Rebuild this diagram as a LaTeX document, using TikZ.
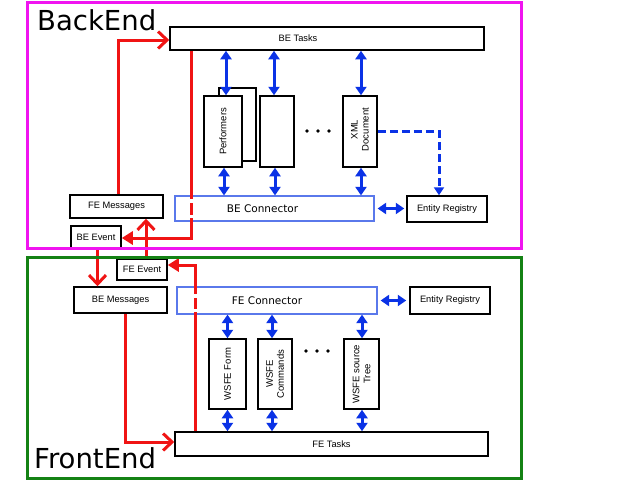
\documentclass[tikz,border=0pt]{standalone}
\usepackage{fontspec}
\setmainfont{Liberation Sans}
\newfontfamily\dejavu{DejaVu Sans}
\usetikzlibrary{arrows.meta}
\definecolor{frameM}{RGB}{240,20,240}
\definecolor{frameG}{RGB}{20,130,20}
\definecolor{redL}{RGB}{240,20,20}
\definecolor{blueA}{RGB}{10,50,230}
\definecolor{blueC}{RGB}{90,120,235}
\tikzset{
  box/.style={draw=black, line width=1.5pt, fill=white, inner sep=0pt,
    font=\fontsize{9.3}{11}\selectfont},
  connbox/.style={draw=blueC, line width=1.2pt, fill=white, inner sep=0pt,
    font=\dejavu\fontsize{10.5}{12}\selectfont},
  rlab/.style={rotate=90, align=center, font=\fontsize{9.5}{11}\selectfont},
  barrow/.style={draw=blueA, line width=3pt,
    {Triangle[length=8.5pt,width=11pt]}-{Triangle[length=8.5pt,width=11pt]}},
  dasharrow/.style={draw=blueA, line width=3pt, dash pattern=on 8pt off 4pt,
    -{Triangle[length=8pt,width=10pt]}},
  rbarb/.style={draw=redL, line width=3pt, -{Straight Barb[length=9pt,width=17pt]}},
  rtri/.style={draw=redL, line width=3pt, -{Triangle[length=11pt,width=13pt]}},
  gapmask/.style={draw=white, line width=4.5pt},
  title/.style={anchor=base west, inner sep=0pt, font=\dejavu\fontsize{27.5}{30}\selectfont},
  frameline/.style={line width=3pt}
}
\begin{document}
\begin{tikzpicture}[x=1pt,y=-1pt]
\useasboundingbox (0,0) rectangle (640,480);
\fill[white] (0,0) rectangle (640,480);

% titles
\node[title] (betitle) at (37,30) {BackEnd};
\node[title] (fetitle) at (34,468) {FrontEnd};

% BackEnd nodes
\node[box, minimum width=314pt, minimum height=23pt,
  label={[xshift=-29pt, font=\fontsize{9.3}{11}\selectfont]center:BE Tasks}] (betasks) at (327,38.5) {};
\node[box, minimum width=37pt, minimum height=73pt] (perfback) at (237.5,124.5) {};
\node[box, minimum width=38pt, minimum height=71pt,
  label={[rlab]center:Performers}] (perf) at (223,131.5) {};
\node[box, minimum width=34pt, minimum height=71pt] (blank) at (277,131.5) {};
\node[box, minimum width=34pt, minimum height=71pt,
  label={[rlab, xshift=2pt]center:{XML\\Document}}] (xml) at (360,131.5) {};
\node[connbox, minimum width=199pt, minimum height=25pt,
  label={[xshift=-12pt, font=\dejavu\fontsize{10.5}{12}\selectfont]center:BE Connector}] (beconn) at (274.5,208.5) {};
\node[box, minimum width=80pt, minimum height=26pt] (beer) at (447,209) {Entity Registry};
\node[box, minimum width=93pt, minimum height=23pt] (femsg) at (116.5,206.5) {FE Messages};
\node[box, minimum width=50pt, minimum height=22pt] (beevt) at (96,237) {BE Event};

% FrontEnd nodes
\node[box, minimum width=50pt, minimum height=21pt] (feevt) at (142,269.5) {FE Event};
\node[box, minimum width=93pt, minimum height=26pt] (bemsg) at (120.5,300) {BE Messages};
\node[connbox, minimum width=200pt, minimum height=27pt,
  label={[xshift=-10pt, font=\dejavu\fontsize{10.5}{12}\selectfont]center:FE Connector}] (feconn) at (277,300.5) {};
\node[box, minimum width=80pt, minimum height=27pt] (feer) at (450,300.5) {Entity Registry};
\node[box, minimum width=37pt, minimum height=70pt,
  label={[rlab]center:WSFE Form}] (wform) at (227.5,374) {};
\node[box, minimum width=34pt, minimum height=70pt,
  label={[rlab]center:{WSFE\\Commands}}] (wcmd) at (275,374) {};
\node[box, minimum width=35pt, minimum height=70pt,
  label={[rlab]center:{WSFE source\\Tree}}] (wtree) at (361.5,374) {};
\node[box, minimum width=313pt, minimum height=24pt] (fetasks) at (331.5,444) {FE Tasks};

% dots
\foreach \dx in {307,318,329} {
  \fill (\dx,131) circle (1.8pt);
  \fill (\dx-1,351) circle (1.8pt);
}

% blue arrows BackEnd
\draw[barrow] ([xshift=3pt]perf.north |- betasks.south) -- ([xshift=3pt]perf.north);
\draw[barrow] ([xshift=-3pt]blank.north |- betasks.south) -- ([xshift=-3pt]blank.north);
\draw[barrow] ([xshift=1pt]xml.north |- betasks.south) -- ([xshift=1pt]xml.north);
\draw[barrow] ([xshift=1pt]perf.south) -- ([xshift=1pt]perf.south |- beconn.north);
\draw[barrow] ([xshift=-2pt]blank.south) -- ([xshift=-2pt]blank.south |- beconn.north);
\draw[barrow] ([xshift=1pt]xml.south) -- ([xshift=1pt]xml.south |- beconn.north);
\draw[barrow, shorten <=3pt, shorten >=2pt] (beconn.east) -- (beconn.east -| beer.west);
\draw[dasharrow] (xml.east) -| ([xshift=-8pt]beer.north);

% blue arrows FrontEnd
\draw[barrow] (wform.north |- feconn.south) -- (wform.north);
\draw[barrow] ([xshift=-3pt]wcmd.north |- feconn.south) -- ([xshift=-3pt]wcmd.north);
\draw[barrow] ([xshift=0.5pt]wtree.north |- feconn.south) -- ([xshift=0.5pt]wtree.north);
\draw[barrow] (wform.south) -- (wform.south |- fetasks.north);
\draw[barrow] ([xshift=-3pt]wcmd.south) -- ([xshift=-3pt]wcmd.south |- fetasks.north);
\draw[barrow] ([xshift=0.5pt]wtree.south) -- ([xshift=0.5pt]wtree.south |- fetasks.north);
\draw[barrow, shorten <=3pt, shorten >=3pt] (feconn.east) -- (feconn.east -| feer.west);

% red arrows
\draw[rbarb] ([xshift=1.5pt]femsg.north) |- ([yshift=-1.5pt]betasks.west);
\draw[rtri] ([xshift=-136pt]betasks.south) |- ([yshift=-1pt]beevt.east);
\draw[gapmask] (191,199) -- (191,203);
\draw[gapmask] (191,215) -- (191,218);
\draw[rbarb] ([xshift=1.5pt]beevt.south) -- ([xshift=1.5pt]beevt.south |- bemsg.north);
\draw[rbarb] ([xshift=4pt]feevt.north) -- ([xshift=4pt]feevt.north |- femsg.south);
\draw[rtri] ([xshift=-136.5pt]fetasks.north) |- ([yshift=4.5pt]feevt.east);
\draw[gapmask] (195,294) -- (195,298);
\draw[gapmask] (195,309) -- (195,312);
\draw[rbarb] ([xshift=5pt]bemsg.south) |- ([yshift=2pt]fetasks.west);

% frames
\draw[frameM, frameline] (27,2) rectangle (521,248);
\draw[frameG, frameline] (27,257) rectangle (521,478);
\end{tikzpicture}
\end{document}
